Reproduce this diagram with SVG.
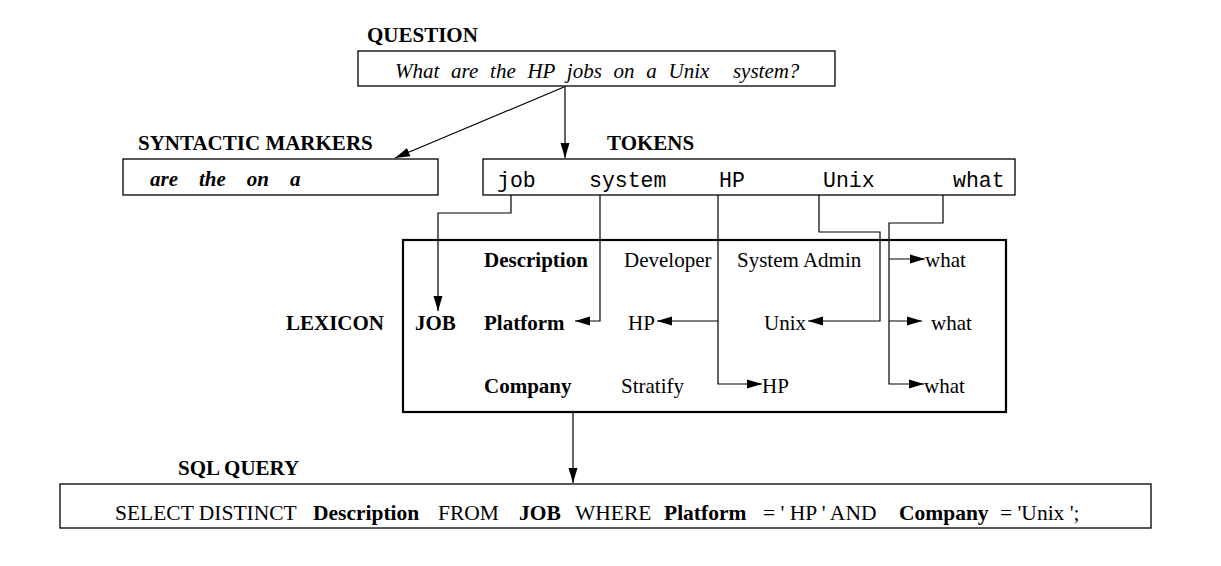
<svg xmlns="http://www.w3.org/2000/svg" width="1221" height="566" viewBox="0 0 1221 566">
<style>
.box{fill:#fff;stroke:#000;stroke-width:1.3}
.lex{fill:#fff;stroke:#000;stroke-width:2.2}
.t{font-family:"Liberation Serif",serif;font-size:21px;fill:#000}
.s{font-size:21.5px}
.b{font-weight:bold}
.i{font-style:italic}
.m{font-family:"Liberation Mono",monospace;font-size:21.5px;fill:#000}
.c{fill:none;stroke:#000;stroke-width:1.2}
</style>
<defs>
<marker id="ah" markerUnits="userSpaceOnUse" markerWidth="16" markerHeight="10" refX="15" refY="5" orient="auto">
<path d="M0,0.5 L15,5 L0,9.5 Z" fill="#000"/>
</marker>
</defs>
<rect width="1221" height="566" fill="#fff"/>

<g id="question">
<text class="t b" x="367" y="42">QUESTION</text>
<rect class="box" x="358" y="51" width="477" height="35"/>
<text class="t i" x="395" y="78" font-size="20" word-spacing="6.5" xml:space="preserve">What are the HP jobs on a Unix  system?</text>
</g>

<g id="markers">
<text class="t b" x="138" y="150">SYNTACTIC MARKERS</text>
<rect class="box" x="123" y="159" width="315" height="36"/>
<text class="t b i" x="150" y="186" font-size="20" xml:space="preserve">are    the    on    a</text>
</g>

<g id="tokens">
<text class="t b" x="607" y="150">TOKENS</text>
<rect class="box" x="483" y="159" width="532" height="36"/>
<text class="m" x="497" y="187">job</text>
<text class="m" x="589" y="187">system</text>
<text class="m" x="719" y="187">HP</text>
<text class="m" x="823" y="187">Unix</text>
<text class="m" x="953" y="187">what</text>
</g>

<g id="lexicon">
<text class="t b" x="286" y="330">LEXICON</text>
<rect class="lex" x="403" y="240" width="603" height="172"/>
<text class="t b" x="415" y="330">JOB</text>
<text class="t b" x="484" y="267">Description</text>
<text class="t" x="624" y="267">Developer</text>
<text class="t" x="737" y="267">System Admin</text>
<text class="t" x="925" y="267">what</text>
<text class="t b" x="484" y="330">Platform</text>
<text class="t" x="628" y="330">HP</text>
<text class="t" x="764" y="330">Unix</text>
<text class="t" x="931" y="330">what</text>
<text class="t b" x="484" y="393">Company</text>
<text class="t" x="621" y="393">Stratify</text>
<text class="t" x="762" y="393">HP</text>
<text class="t" x="924" y="393">what</text>
</g>

<g id="sql">
<text class="t b" x="178" y="475">SQL QUERY</text>
<rect class="box" x="60" y="484" width="1091" height="44"/>
<text class="t s" x="115" y="520">SELECT DISTINCT</text>
<text class="t s b" x="313" y="520">Description</text>
<text class="t s" x="438" y="520">FROM</text>
<text class="t s b" x="519" y="520">JOB</text>
<text class="t s" x="575" y="520">WHERE</text>
<text class="t s b" x="664" y="520">Platform</text>
<text class="t s" x="763" y="520" xml:space="preserve">= ' HP ' AND</text>
<text class="t s b" x="899" y="520">Company</text>
<text class="t s" x="1000" y="520">= 'Unix ';</text>
</g>

<g id="connectors">
<line class="c" x1="565" y1="86" x2="565" y2="158" marker-end="url(#ah)"/>
<line class="c" x1="564" y1="87" x2="395" y2="158" marker-end="url(#ah)"/>
<polyline class="c" points="511,195 511,213 438,213 438,311" marker-end="url(#ah)"/>
<polyline class="c" points="600,195 600,321 575,321" marker-end="url(#ah)"/>
<polyline class="c" points="718,195 718,321 657,321" marker-end="url(#ah)"/>
<polyline class="c" points="718,321 718,384 762,384" marker-end="url(#ah)"/>
<polyline class="c" points="819,195 819,232 880,232 880,321 808,321" marker-end="url(#ah)"/>
<polyline class="c" points="943,195 943,223 889,223 889,384 924,384" marker-end="url(#ah)"/>
<line class="c" x1="889" y1="259" x2="925" y2="259" marker-end="url(#ah)"/>
<line class="c" x1="889" y1="321" x2="922" y2="321" marker-end="url(#ah)"/>
<line class="c" x1="573" y1="412" x2="573" y2="483" marker-end="url(#ah)"/>
</g>
</svg>
